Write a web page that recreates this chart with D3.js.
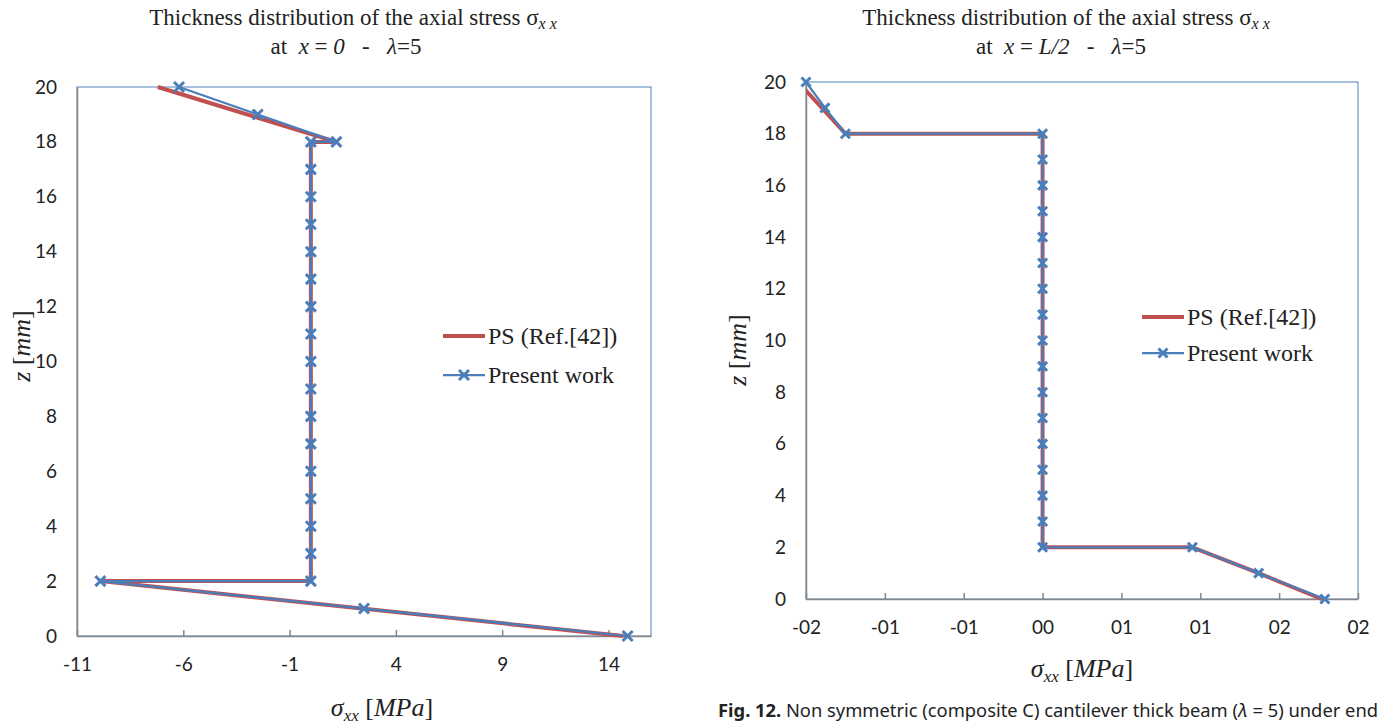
<!DOCTYPE html>
<html>
<head>
<meta charset="utf-8">
<script src="https://cdn.jsdelivr.net/npm/d3@7"></script>
<style>
  html, body { margin: 0; padding: 0; background: #fff; }
  svg { display: block; }
  text { white-space: pre; }
</style>
</head>
<body>
<svg id="fig" width="1386" height="725"></svg>
<script>
// ---------------- DATA ----------------
// Left chart: x = 0
const leftPsZ = [20, 18, 18, 2, 2, 0];
const leftPsX = [-7.2, 1.2, 0, 0, -9.9, 14.7];
const leftPwZ = [20, 19, 18, 18, 17, 16, 15, 14, 13, 12, 11, 10, 9, 8, 7, 6, 5, 4, 3, 2, 2, 1, 0];
const leftPwX = [-6.2, -2.5, 1.2, 0, 0, 0, 0, 0, 0, 0, 0, 0, 0, 0, 0, 0, 0, 0, 0, 0, -9.9, 2.5, 14.9];
const leftXTicks = [-11, -6, -1, 4, 9, 14];
const leftXDomain = [-11, 16];

// Right chart: x = L/2
const rightPsZ = [20, 18, 18, 2, 2, 1, 0];
const rightPsX = [-1.55, -1.25, 0, 0, 0.95, 1.37, 1.77];
const rightPwZ = [20, 19, 18, 18, 17, 16, 15, 14, 13, 12, 11, 10, 9, 8, 7, 6, 5, 4, 3, 2, 2, 1, 0];
const rightPwX = [-1.5, -1.38, -1.25, 0, 0, 0, 0, 0, 0, 0, 0, 0, 0, 0, 0, 0, 0, 0, 0, 0, 0.95, 1.37, 1.79];
const rightXTicks = [-1.5, -1, -0.5, 0, 0.5, 1, 1.5, 2];
const rightXTickLabels = ["-02", "-01", "-01", "00", "01", "01", "02", "02"];
const rightXDomain = [-1.5, 2];

const zTicks = [0, 2, 4, 6, 8, 10, 12, 14, 16, 18, 20];
const zDomain = [0, 20];

const seriesNames = ["PS (Ref.[42])", "Present work"];

// ---------------- STYLE ----------------
const RED = "#C0504D";
const BLUE = "#4A7EBB";
const AXIS = "#868686";
const BORDER = "#4F81BD";
const tickFont = "Lato, 'Open Sans', sans-serif";
const serif = "'Liberation Serif', 'Times New Roman', serif";

const svg = d3.select("#fig");

function drawChart(cfg) {
  const g = svg.append("g");
  const x = d3.scaleLinear().domain(cfg.xDomain).range([cfg.left, cfg.right]);
  const y = d3.scaleLinear().domain(zDomain).range([cfg.bottom, cfg.top]);

  const clipId = "clip" + cfg.id;
  svg.append("clipPath").attr("id", clipId)
    .append("rect").attr("x", cfg.left).attr("y", cfg.top - 10)
    .attr("width", cfg.right - cfg.left).attr("height", cfg.bottom - cfg.top + 20);

  // plot border (blue)
  g.append("rect")
    .attr("x", cfg.left).attr("y", cfg.top)
    .attr("width", cfg.right - cfg.left).attr("height", cfg.bottom - cfg.top)
    .attr("fill", "none").attr("stroke", BORDER).attr("stroke-width", 1);

  // y axis
  const yAxis = d3.axisLeft(y).tickValues(zTicks).tickSize(0).tickPadding(20).tickFormat(d => String(d));
  const ya = g.append("g").attr("transform", `translate(${cfg.left},0)`).call(yAxis);
  ya.select(".domain").attr("stroke", AXIS).attr("stroke-width", 1.5);
  ya.selectAll("text").attr("font-family", tickFont).attr("font-size", 19).attr("fill", "#222");

  // x axis (ticks inside)
  const xAxis = d3.axisBottom(x).tickValues(cfg.xTicks).tickSizeInner(-6).tickSizeOuter(0).tickPadding(22)
    .tickFormat((d, i) => cfg.xLabels ? cfg.xLabels[i] : String(d));
  const xa = g.append("g").attr("transform", `translate(0,${cfg.bottom})`).call(xAxis);
  xa.select(".domain").attr("stroke", AXIS).attr("stroke-width", 1.5);
  xa.selectAll(".tick line").attr("stroke", AXIS).attr("stroke-width", 1.5);
  xa.selectAll("text").attr("font-family", tickFont).attr("font-size", 19).attr("fill", "#222");

  // series
  const line = d3.line().x(d => x(d[0])).y(d => y(d[1]));
  const ps = cfg.psX.map((v, i) => [v, cfg.psZ[i]]);
  const pw = cfg.pwX.map((v, i) => [v, cfg.pwZ[i]]);
  const lines = g.append("g").attr("clip-path", `url(#${clipId})`);
  lines.append("path").datum(ps).attr("d", line)
    .attr("fill", "none").attr("stroke", RED).attr("stroke-width", 4).attr("stroke-linejoin", "round");
  lines.append("path").datum(pw).attr("d", line)
    .attr("fill", "none").attr("stroke", BLUE).attr("stroke-width", 2.25).attr("stroke-linejoin", "round");

  const s = cfg.markerSize;
  const cross = `M${-s},${-s}L${s},${s}M${-s},${s}L${s},${-s}`;
  g.append("g").selectAll("path").data(pw).join("path")
    .attr("d", cross)
    .attr("transform", d => `translate(${x(d[0])},${y(d[1])})`)
    .attr("fill", "none").attr("stroke", BLUE).attr("stroke-width", 3);

  // titles
  const t = g.append("text").attr("font-family", serif).attr("font-size", 23).attr("fill", "#222")
    .attr("text-anchor", "middle");
  const l1 = t.append("tspan").attr("x", cfg.titleX).attr("y", 25);
  l1.append("tspan").text("Thickness distribution of the axial stress σ");
  l1.append("tspan").attr("font-style", "italic").attr("font-size", 16).attr("dy", 4).text("x x");
  const l2 = g.append("text").attr("font-family", serif).attr("font-size", 23).attr("fill", "#222")
    .attr("text-anchor", "middle").attr("x", cfg.titleX2).attr("y", 54);
  l2.append("tspan").text("at  ");
  l2.append("tspan").attr("font-style", "italic").text("x");
  l2.append("tspan").text(" = ");
  l2.append("tspan").attr("font-style", "italic").text(cfg.where);
  l2.append("tspan").text("   -   ");
  l2.append("tspan").attr("font-style", "italic").text("λ");
  l2.append("tspan").text("=5");

  // y label
  const yl = g.append("text").attr("font-family", serif).attr("font-size", 26).attr("fill", "#222")
    .attr("text-anchor", "middle")
    .attr("transform", `translate(${cfg.yLabelX},${cfg.yLabelY}) rotate(-90)`);
  yl.append("tspan").attr("font-style", "italic").text("z");
  yl.append("tspan").text(" [");
  yl.append("tspan").attr("font-style", "italic").text("mm");
  yl.append("tspan").text("]");

  // x label
  const xl = g.append("text").attr("font-family", serif).attr("font-size", 26).attr("fill", "#222")
    .attr("text-anchor", "middle").attr("x", cfg.xLabelX).attr("y", cfg.xLabelY);
  xl.append("tspan").attr("font-style", "italic").text("σ");
  xl.append("tspan").attr("font-style", "italic").attr("font-size", 17).attr("dy", 5).text("xx");
  xl.append("tspan").attr("dy", -5).text(" [");
  xl.append("tspan").attr("font-style", "italic").text("MPa");
  xl.append("tspan").text("]");

  // legend
  const lg = g.append("g").attr("transform", `translate(${cfg.legX},${cfg.legY})`);
  lg.append("line").attr("x1", 0).attr("x2", 42).attr("y1", 0).attr("y2", 0)
    .attr("stroke", RED).attr("stroke-width", 4);
  lg.append("text").attr("x", 45).attr("y", 8).attr("font-family", serif).attr("font-size", 24)
    .attr("fill", "#222").text(seriesNames[0]);
  const dy = cfg.legGap;
  lg.append("line").attr("x1", 0).attr("x2", 42).attr("y1", dy).attr("y2", dy)
    .attr("stroke", BLUE).attr("stroke-width", 2.25);
  lg.append("path").attr("d", cross).attr("transform", `translate(21,${dy})`)
    .attr("fill", "none").attr("stroke", BLUE).attr("stroke-width", 3);
  lg.append("text").attr("x", 45).attr("y", dy + 8).attr("font-family", serif).attr("font-size", 24)
    .attr("fill", "#222").text(seriesNames[1]);
}

drawChart({
  id: "L", left: 77, right: 651, top: 87, bottom: 636,
  xDomain: leftXDomain, xTicks: leftXTicks, xLabels: null,
  psX: leftPsX, psZ: leftPsZ, pwX: leftPwX, pwZ: leftPwZ,
  markerSize: 5, titleX: 353, titleX2: 346, where: "0",
  yLabelX: 30, yLabelY: 346, xLabelX: 382, xLabelY: 716,
  legX: 443, legY: 336, legGap: 39
});

drawChart({
  id: "R", left: 806, right: 1358, top: 82, bottom: 599,
  xDomain: rightXDomain, xTicks: rightXTicks, xLabels: rightXTickLabels,
  psX: rightPsX, psZ: rightPsZ, pwX: rightPwX, pwZ: rightPwZ,
  markerSize: 4.5, titleX: 1066, titleX2: 1061, where: "L/2",
  yLabelX: 746, yLabelY: 350, xLabelX: 1082, xLabelY: 677,
  legX: 1142, legY: 317, legGap: 36
});

// caption
const cap = svg.append("text").attr("x", 718).attr("y", 717)
  .attr("font-family", "'Noto Sans', sans-serif").attr("font-size", 18).attr("fill", "#222")
  .attr("textLength", 660).attr("lengthAdjust", "spacingAndGlyphs");
cap.append("tspan").attr("font-weight", "bold").text("Fig. 12.");
cap.append("tspan").text(" Non symmetric (composite C) cantilever thick beam (");
cap.append("tspan").attr("font-style", "italic").text("λ");
cap.append("tspan").text(" = 5) under end");
</script>
</body>
</html>
